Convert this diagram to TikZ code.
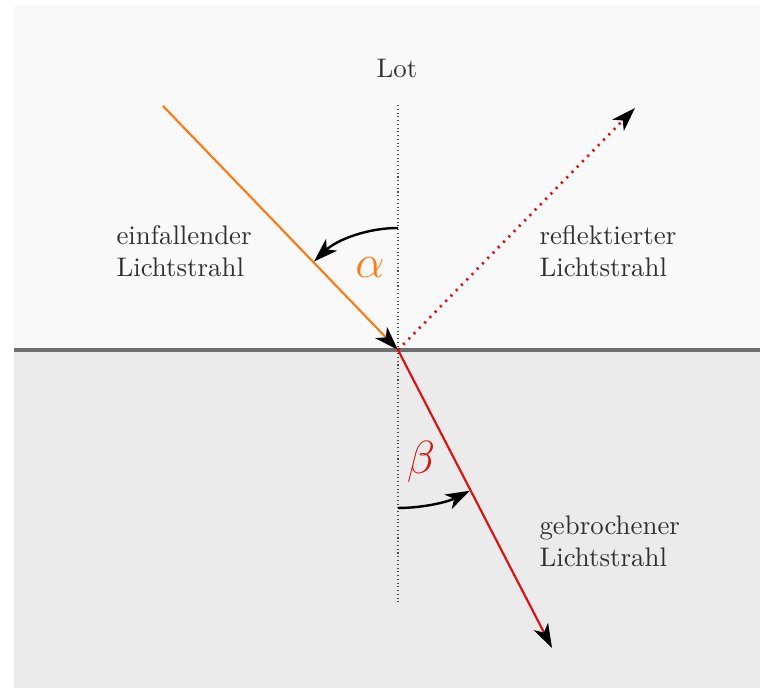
\documentclass[tikz,border=0pt]{standalone}
\usetikzlibrary{arrows.meta,calc}
\definecolor{bgtop}{HTML}{F9F9F9}
\definecolor{bgbot}{HTML}{EBEBEB}
\definecolor{surf}{HTML}{707070}
\definecolor{rayorange}{HTML}{FF7A12}
\definecolor{rayred}{HTML}{DD1111}
\definecolor{txt}{HTML}{303030}
\begin{document}
\begin{tikzpicture}[x=0.3723pt,y=0.3723pt,
  ray/.style={line width=0.8pt},
  tip/.style={-{Stealth[length=9pt,width=6pt,inset=2.5pt]}},
  label/.style={text=txt,align=left,font=\normalsize,inner sep=0pt,anchor=west},
  anglabel/.style={font=\LARGE,inner sep=0pt}]
\useasboundingbox (0,0) rectangle (760,688);
\fill[white] (0,0) rectangle (760,688);
\fill[bgtop] (14,338) rectangle (760,683);
\fill[bgbot] (14,0) rectangle (760,338);
\draw[surf,line width=1.2pt] (14,338) -- (760,338);
\coordinate (O) at (398,338);
\coordinate (A) at (163,582);
\coordinate (R) at (635,580);
\coordinate (B) at (552,40);
\coordinate (LT) at (398,583);
\coordinate (LB) at (398,86);
\draw[densely dotted,line width=0.4pt,black!70] (LT) -- (LB);
\node[text=txt,inner sep=0pt] (lot) at (397,620) {Lot};
\draw[ray,rayorange,-{Stealth[length=9pt,width=6pt,inset=2.5pt,black]}] (A) -- (O);
\draw[ray,rayred,dotted,line width=1pt,-{Stealth[length=9pt,width=6pt,inset=2.5pt,black]}] (O) -- (R);
\draw[ray,rayred,-{Stealth[length=9pt,width=6pt,inset=2.5pt,black]}] (O) -- (B);
\draw[line width=0.9pt,tip] ($(O)+(90:122)$) arc[start angle=90,end angle=133.5,radius=122];
\draw[line width=0.9pt,tip] ($(O)+(-90:158)$) arc[start angle=-90,end angle=-63,radius=158];
\node[anglabel,text=rayorange] (alpha) at (370,420) {$\alpha$};
\node[anglabel,text=rayred] (beta) at (421,226) {$\beta$};
\node[label] (ein) at (116,437) {einfallender\\Lichtstrahl};
\node[label] (ref) at (539,437) {reflektierter\\Lichtstrahl};
\node[label] (geb) at (539,147) {gebrochener\\Lichtstrahl};
\end{tikzpicture}
\end{document}
